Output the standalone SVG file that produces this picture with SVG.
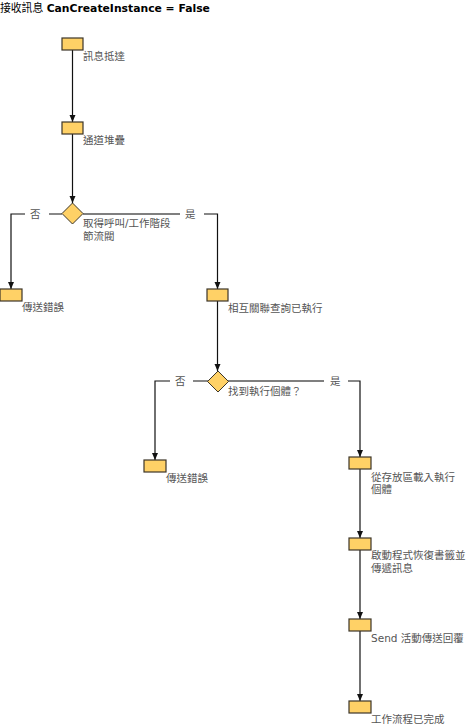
<svg xmlns="http://www.w3.org/2000/svg" width="467" height="726" viewBox="0 0 467 726">
  <defs>
    <marker id="ah" markerWidth="7" markerHeight="8" refX="7" refY="3" orient="auto" markerUnits="userSpaceOnUse" viewBox="0 0 7 6">
      <path d="M0,0 L7,3 L0,6 Z" fill="#111"/>
    </marker>
  </defs>
  <style>
    .title { font-family: "DejaVu Sans", "Noto Sans CJK TC", sans-serif; font-size: 10.8px; fill: #000; }
    .bold { font-weight: bold; }
    .lbl { font-family: "DejaVu Sans", "Noto Sans CJK TC", sans-serif; font-size: 10.5px; fill: #555; }
    .act { fill: #FFD166; stroke: #3c3528; stroke-width: 1.2; }
    .dec { fill: #FFD166; stroke: #3c3528; stroke-width: 1; }
    .flow { fill: none; stroke: #111; stroke-width: 1.2; }
    .branch { fill: none; stroke: #555; stroke-width: 1.4; }
  </style>
  <rect width="467" height="726" fill="#fff"/>

  <text class="title" x="0" y="12">接收訊息 <tspan class="bold">CanCreateInstance = False</tspan></text>

  <g id="connectors">
    <line class="flow" x1="72.5" y1="50" x2="72.5" y2="122" marker-end="url(#ah)"/>
    <line class="flow" x1="72.5" y1="134" x2="72.5" y2="203" marker-end="url(#ah)"/>
    <!-- first decision: no -->
    <polyline class="branch" points="62,214 49,214"/>
    <polyline class="flow" points="25,214 11,214 11,289" marker-end="url(#ah)"/>
    <text class="lbl" x="30" y="218">否</text>
    <!-- first decision: yes -->
    <polyline class="branch" points="83,214 180,214"/>
    <polyline class="flow" points="204,214 217.5,214 217.5,289" marker-end="url(#ah)"/>
    <text class="lbl" x="185" y="218">是</text>
    <line class="flow" x1="217.5" y1="301" x2="217.5" y2="371" marker-end="url(#ah)"/>
    <!-- second decision: no -->
    <polyline class="branch" points="208,381 193,381"/>
    <polyline class="flow" points="170,381 155,381 155,460" marker-end="url(#ah)"/>
    <text class="lbl" x="175" y="385">否</text>
    <!-- second decision: yes -->
    <polyline class="branch" points="228,381 324,381"/>
    <polyline class="flow" points="348,381 360,381 360,457" marker-end="url(#ah)"/>
    <text class="lbl" x="330" y="385">是</text>
    <line class="flow" x1="360" y1="469" x2="360" y2="538" marker-end="url(#ah)"/>
    <line class="flow" x1="360" y1="550" x2="360" y2="619" marker-end="url(#ah)"/>
    <line class="flow" x1="360" y1="631" x2="360" y2="701" marker-end="url(#ah)"/>
  </g>

  <g id="msg-arrived">
    <rect class="act" x="62" y="38" width="21" height="12"/>
    <text class="lbl" x="83" y="60">訊息抵達</text>
  </g>
  <g id="channel-stack">
    <rect class="act" x="62" y="122" width="21" height="12"/>
    <text class="lbl" x="83" y="144">通道堆疊</text>
  </g>
  <g id="throttle">
    <polygon class="dec" points="72.5,203 83,213.5 72.5,224 62,213.5"/>
    <text class="lbl" x="83" y="227">取得呼叫/工作階段</text>
    <text class="lbl" x="83" y="240">節流閥</text>
  </g>
  <g id="fault-1">
    <rect class="act" x="0" y="289" width="22" height="12"/>
    <text class="lbl" x="22" y="311">傳送錯誤</text>
  </g>
  <g id="correlation">
    <rect class="act" x="207" y="289" width="21" height="12"/>
    <text class="lbl" x="228" y="312">相互關聯查詢已執行</text>
  </g>
  <g id="instance-found">
    <polygon class="dec" points="218,371 228.5,381.5 218,392 207.5,381.5"/>
    <text class="lbl" x="228" y="395">找到執行個體？</text>
  </g>
  <g id="fault-2">
    <rect class="act" x="144" y="460" width="22" height="12"/>
    <text class="lbl" x="166" y="482">傳送錯誤</text>
  </g>
  <g id="load-instance">
    <rect class="act" x="349" y="457" width="22" height="12"/>
    <text class="lbl" x="371" y="481">從存放區載入執行</text>
    <text class="lbl" x="371" y="493">個體</text>
  </g>
  <g id="resume-bookmark">
    <rect class="act" x="349" y="538" width="22" height="12"/>
    <text class="lbl" x="371" y="559">啟動程式恢復書籤並</text>
    <text class="lbl" x="371" y="572">傳遞訊息</text>
  </g>
  <g id="send-reply">
    <rect class="act" x="349" y="619" width="22" height="12"/>
    <text class="lbl" x="371" y="642">Send 活動傳送回覆</text>
  </g>
  <g id="completed">
    <rect class="act" x="349" y="701" width="22" height="12"/>
    <text class="lbl" x="371" y="723">工作流程已完成</text>
  </g>
</svg>
